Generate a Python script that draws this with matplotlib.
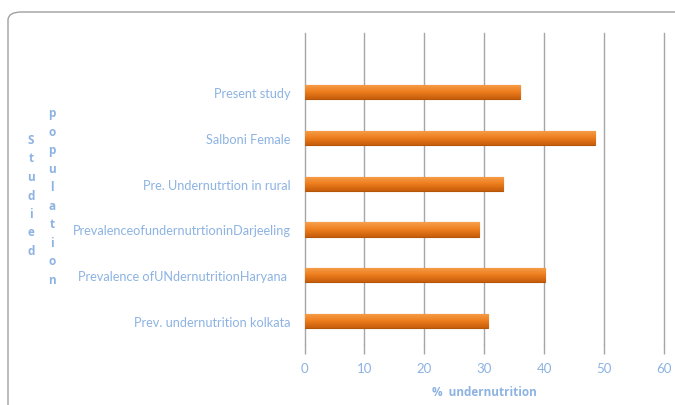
import numpy as np
import matplotlib.pyplot as plt
from matplotlib.patches import FancyBboxPatch
from matplotlib.colors import LinearSegmentedColormap

# studied populations, bottom to top
populations = ['Prev. undernutrition kolkata',
               'Prevalence ofUNdernutritionHaryana ',
               'PrevalenceofundernutrtioninDarjeeling',
               'Pre. Undernutrtion in rural',
               'Salboni Female',
               'Present study']
undernutrition = [30.7, 40.1, 29.1, 33.1, 48.5, 35.9]
xticks = [0, 10, 20, 30, 40, 50, 60]

text_color = '#8DB3E2'
grid_color = '#A6A6A6'
plt.rcParams['font.family'] = ['Lato', 'DejaVu Sans']
bold_family = ['Open Sans', 'DejaVu Sans']

fig = plt.figure(figsize = (6.75, 4.06), dpi = 100)

# outer chart frame with a rounded corner, running off the page
frame = FancyBboxPatch((8 / 675, -0.2), 1.2, (406 - 13) / 406 + 0.2,
    boxstyle = 'round,pad=0,rounding_size=0.02', transform = fig.transFigure,
    facecolor = 'none', edgecolor = '#A0A0A0', linewidth = 1.0, zorder = -1)
fig.patches.append(frame)

ax = fig.add_axes([304.5 / 675, 61 / 406, 359.5 / 675, 311 / 406])
ax.set_facecolor('none')

ypos = np.arange(len(populations))
bars = ax.barh(ypos, undernutrition, height = 0.31, color = '#E46C0A',
    edgecolor = '#B4560A', linewidth = 0.8, zorder = 3)

# soft vertical gradient on each bar
grad = np.linspace(0, 1, 64).reshape(-1, 1)
cmap = LinearSegmentedColormap.from_list('bar', ['#C75D0B', '#EE7E1E', '#F7A04E'])
for b in bars:
    x0, y0 = b.get_x(), b.get_y()
    w, h = b.get_width(), b.get_height()
    im = ax.imshow(grad, cmap = cmap, extent = (x0, x0 + w, y0, y0 + h),
        origin = 'lower', aspect = 'auto', zorder = 3.5)
    im.set_clip_path(b)

ax.set_xlim(0, 60)
ax.set_ylim(-0.5, 6.29)
ax.set_xticks(xticks)
ax.xaxis.grid(True, color = grid_color, linewidth = 1.0, zorder = 0)
for gl in ax.get_xgridlines():
    gl.set_clip_on(False)
ax.tick_params(axis = 'x', length = 7, color = grid_color, width = 1.0,
    labelcolor = text_color, labelsize = 9.5, pad = 6)
ax.set_yticks(ypos)
ax.set_yticklabels(populations)
ax.tick_params(axis = 'y', length = 0, labelcolor = text_color,
    labelsize = 9.2, pad = 10)
for s in ax.spines.values():
    s.set_visible(False)

ax.set_xlabel('%  undernutrition', color = text_color, fontsize = 8.5,
    fontweight = 'bold', family = bold_family, labelpad = 8)

# stacked vertical axis title
fig.text(31 / 675, 1 - 196 / 406, '\n'.join('Studied'), color = text_color,
    fontsize = 8.5, fontweight = 'bold', family = bold_family,
    ha = 'center', va = 'center', linespacing = 1.55)
fig.text(52 / 675, 1 - 197 / 406, '\n'.join('population'), color = text_color,
    fontsize = 8.5, fontweight = 'bold', family = bold_family,
    ha = 'center', va = 'center', linespacing = 1.55)

plt.savefig('out.png', dpi = 100)
